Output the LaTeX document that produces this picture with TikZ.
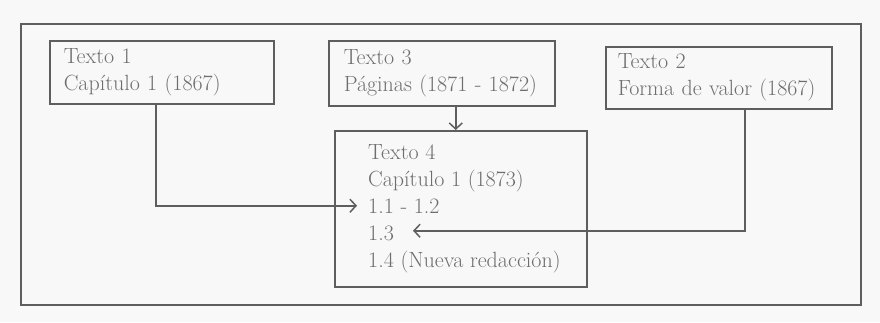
\documentclass[tikz,border=0pt]{standalone}
\usepackage{tikz}
\usetikzlibrary{arrows.meta, calc}
\definecolor{linegray}{HTML}{5E5E5E}
\definecolor{inkgray}{HTML}{6E6E6E}
\definecolor{paper}{HTML}{F8F8F8}
\tikzstyle{textbox} = [rectangle, draw=linegray, line width=1.5pt, anchor=north west, align=left, text=inkgray, font=\fontsize{22}{27}\selectfont, inner ysep=0pt]
\tikzstyle{textlist} = [anchor=west, align=left, inner sep=0pt, text=inkgray, font=\fontsize{22}{27}\selectfont]
\tikzstyle{arrow} = [draw=linegray, line width=1.5pt, -{Straight Barb[length=6pt, width=13pt, line width=1.5pt]}]

\begin{document}
\begin{tikzpicture}[x=1pt, y=-1pt]
\useasboundingbox [fill=paper] (0,0) rectangle (880,322);
\draw [linegray, line width=1.5pt] (21,24) rectangle (861,305);

\node (t1) [textbox, text width=196pt, inner xsep=14pt, minimum height=63pt] at (49,40)
   {Texto 1\\Capítulo 1 (1867)};
\node (t3) [textbox, text width=196pt, inner xsep=15pt, minimum height=65pt] at (328,40)
   {Texto 3\\Páginas (1871 - 1872)};
\node (t2) [textbox, text width=202pt, inner xsep=12pt, minimum height=62pt] at (605,46)
   {Texto 2\\Forma de valor (1867)};
\node (t4) [textbox, minimum width=252pt, minimum height=156pt] at (334,130) {};
\node (t4list) [textlist] at ($(t4.west)+(34,0)$)
   {Texto 4\\Capítulo 1 (1873)\\1.1 - 1.2\\1.3\\1.4 (Nueva redacción)};

\coordinate (out1) at ($(t1.south)+(-6,0)$);
\coordinate (out3) at ($(t3.south)+(14,0)$);
\coordinate (out2) at ($(t2.south)+(26,0)$);
\coordinate (in1) at ($(t4list.west)+(-11,-3)$);
\coordinate (in2) at ($(t4list.west)+(45,22)$);

\draw [arrow] (out3) -- (out3 |- t4.north);
\draw [arrow] (out1) |- (in1);
\draw [arrow] (out2) |- (in2);

\end{tikzpicture}
\end{document}
